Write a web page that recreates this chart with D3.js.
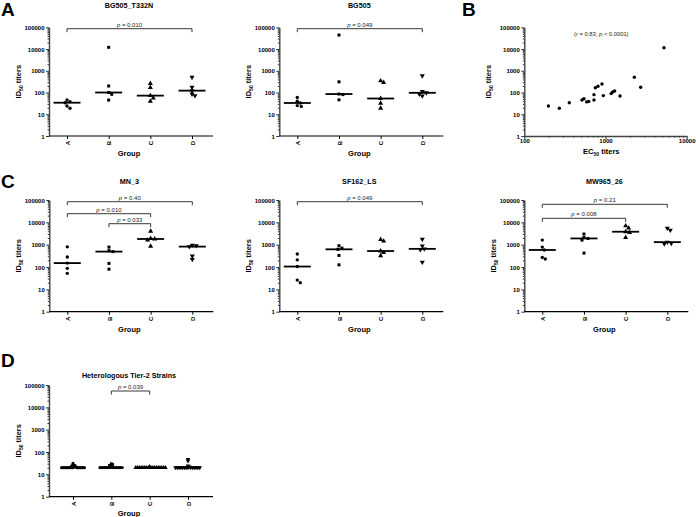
<!DOCTYPE html>
<html><head><meta charset="utf-8">
<script src="https://cdn.jsdelivr.net/npm/d3@7"></script>
<style>body{margin:0;background:#fff}svg{display:block;font-family:"Liberation Sans",Arial,sans-serif}</style>
</head><body><svg id="c" width="696" height="517"></svg>
<script>
// ---------------- data ----------------
const groups = ["A", "B", "C", "D"];
const yTickValues = [1, 10, 100, 1000, 10000, 100000];
const ecTickValues = [100, 1000, 10000];

// ID50 titers per group (A, B, C, D)
const bg505T332N = [[45, 38, 34, 24, 19], [12000, 200, 100, 83, 45], [260, 170, 72, 55, 40], [500, 174, 122, 85, 72]];
const bg505 = [[59, 40, 33, 25, 23], [44000, 310, 85, 80, 46], [345, 290, 53, 32, 19], [590, 112, 97, 85, 70]];
const mn3 = [[800, 280, 150, 87, 52], [780, 540, 490, 145, 80], [4000, 1900, 1800, 1600, 850], [950, 900, 820, 310, 220]];
const sf162 = [[380, 210, 105, 26, 20], [900, 700, 620, 330, 125], [1700, 1450, 520, 440, 320], [1750, 880, 650, 600, 165]];
const mw965 = [[1600, 780, 580, 270, 230], [3000, 2100, 1900, 1600, 420], [7000, 5500, 3800, 3500, 2100], [5500, 4500, 1300, 1150, 1100]];
const tier2 = [
  [20, 20, 20, 20, 20, 20, 20, 20, 20, 20, 20, 20, 22, 22, 24, 25, 25, 31],
  [20, 20, 20, 20, 20, 20, 20, 20, 20, 20, 20, 20, 22, 23, 25, 26, 28, 30],
  [20, 20, 20, 20, 20, 20, 20, 20, 20, 20, 20, 20, 20, 20, 20, 20, 20, 22],
  [20, 20, 20, 20, 20, 20, 20, 20, 20, 20, 20, 20, 20, 20, 22, 24, 40, 47]
];

// Panel B correlation
const ec50 = [198, 270, 358, 513, 543, 586, 621, 721, 721, 750, 808, 906, 940, 1175, 1224, 1297, 1510, 2265, 2710, 5250];
const id50 = [24, 19, 34, 45, 52, 37, 39, 80, 45, 167, 193, 246, 72, 89, 106, 118, 69, 500, 174, 11500];

// significance brackets [from, to, label]
const bracketsBG505T332N = [["A", "D", "0.010"]];
const bracketsBG505 = [["A", "D", "0.049"]];
const bracketsMN3 = [["A", "D", "0.40"], ["A", "C", "0.010"], ["B", "C", "0.033"]];
const bracketsSF162 = [["A", "D", "0.049"]];
const bracketsMW965 = [["A", "D", "0.21"], ["A", "C", "0.008"]];
const bracketsTier2 = [["B", "C", "0.039"]];

// ---------------- drawing ----------------
const svg = d3.select("#c");
const FONT_BOLD = 700;
const symbols = [d3.symbolCircle, d3.symbolSquare, d3.symbolTriangle, d3.symbolTriangle];

function minorVals(lo, hi) {
  const out = [];
  for (let p = lo; p < hi; p *= 10) for (let k = 2; k <= 9; k++) out.push(p * k);
  return out;
}

function yAxis(g, y, x0) {
  const ax = g.append("g").attr("transform", `translate(${x0},0)`);
  ax.call(d3.axisLeft(y).tickValues(yTickValues).tickFormat(d3.format("d")).tickSize(3).tickSizeOuter(0));
  ax.append("g").call(d3.axisLeft(y).tickValues(minorVals(1, 100000)).tickFormat("").tickSize(1.5).tickSizeOuter(0))
    .select(".domain").remove();
  ax.selectAll("text").attr("font-size", 6).attr("font-weight", FONT_BOLD).attr("fill", "#000").attr("x", -4.5).attr("dy", "0.34em");
  ax.selectAll("line").attr("stroke", "#333");
  ax.select(".domain").attr("stroke", "#444").attr("stroke-width", 1.4);
}

function yLabel(g, x, yc) {
  const t = g.append("text").attr("transform", `translate(${x},${yc}) rotate(-90)`)
    .attr("text-anchor", "middle").attr("font-size", 7.5).attr("font-weight", FONT_BOLD).attr("fill", "#000");
  t.append("tspan").text("ID");
  t.append("tspan").text("50").attr("font-size", 5).attr("dy", 2);
  t.append("tspan").text(" titers").attr("dy", -2);
}

function dodge(vals, y, cx, minDist, step) {
  const placed = [];
  const order = vals.map((v, i) => i).sort((a, b) => vals[b] - vals[a]);
  const res = new Array(vals.length);
  for (const i of order) {
    const py = y(vals[i]);
    let k = 0, px;
    while (true) {
      const off = (k === 0 ? 0 : (k % 2 ? 1 : -1) * Math.ceil(k / 2) * step);
      px = cx + off;
      if (placed.every(p => Math.hypot(p[0] - px, p[1] - py) >= minDist)) break;
      k++;
    }
    placed.push([px, py]);
    res[i] = [px, py];
  }
  return res;
}

function dotPanel(p) {
  const g = svg.append("g");
  const y = d3.scaleLog().domain([1, 100000]).range([p.yBot, p.yTop]);
  const x = d3.scalePoint().domain(groups).range([p.x0 + p.xPad[0], p.x0 + p.xPad[1]]);
  yAxis(g, y, p.x0);
  // x axis
  const xa = g.append("g").attr("transform", `translate(0,${p.yBot})`);
  xa.call(d3.axisBottom(x).tickSize(3).tickSizeOuter(0));
  xa.select(".domain").attr("d", `M${p.x0},0H${p.x0 + 164}`).attr("stroke", "#000").attr("stroke-width", 1.2);
  xa.selectAll("line").attr("stroke", "#000");
  xa.selectAll("text").attr("font-size", 6).attr("font-weight", FONT_BOLD).attr("fill", "#000")
    .attr("transform", "rotate(-90)").attr("text-anchor", "end").attr("x", -5).attr("y", 0).attr("dy", "0.34em");
  // titles
  g.append("text").attr("x", p.x0 + 80).attr("y", p.titleY).attr("text-anchor", "middle")
    .attr("font-size", 7.2).attr("font-weight", FONT_BOLD).text(p.title);
  g.append("text").attr("x", p.x0 + 80).attr("y", p.yBot + p.groupDy).attr("text-anchor", "middle")
    .attr("font-size", 7.5).attr("font-weight", FONT_BOLD).text("Group");
  yLabel(g, p.x0 - 28, (p.yTop + p.yBot) / 2);
  // points + medians
  p.data.forEach((vals, gi) => {
    const cx = x(groups[gi]);
    const pos = dodge(vals, y, cx, p.minDist, p.step);
    const sym = d3.symbol().type(symbols[gi]).size(p.symSize[gi]);
    g.append("g").selectAll("path").data(pos).join("path")
      .attr("d", sym)
      .attr("transform", d => `translate(${d[0]},${d[1]})${gi === 3 ? " rotate(180)" : ""}`)
      .attr("fill", "#000");
    const m = y(d3.median(vals));
    g.append("line").attr("x1", cx - p.medHalf).attr("x2", cx + p.medHalf).attr("y1", m).attr("y2", m)
      .attr("stroke", "#000").attr("stroke-width", 1.8);
  });
  // brackets
  p.brackets.forEach((b, i) => {
    const by = p.bracketY[i];
    const x1 = x(b[0]), x2 = x(b[1]);
    g.append("path").attr("d", `M${x1},${by + 3.5}V${by}H${x2}V${by + 3.5}`)
      .attr("fill", "none").attr("stroke", "#222").attr("stroke-width", 0.9);
    const t = g.append("text").attr("x", (x1 + x2) / 2).attr("y", by - 2).attr("text-anchor", "middle")
      .attr("font-size", 6).attr("fill", "#222");
    t.append("tspan").attr("font-style", "italic").text("p");
    t.append("tspan").text(" = " + b[2]);
  });
}

function panelLetter(txt, x, y) {
  svg.append("text").attr("x", x).attr("y", y).attr("font-size", 19).attr("font-weight", FONT_BOLD).text(txt);
}

const rowA = { yTop: 27.3, yBot: 136, titleY: 8, groupDy: 20, xPad: [18, 143], minDist: 3.3, step: 1, medHalf: 13.5, symSize: [9, 9, 11, 11] };
const rowC = { yTop: 200, yBot: 311.7, titleY: 184, groupDy: 20, xPad: [18, 143], minDist: 3.3, step: 1, medHalf: 13.5, symSize: [9, 9, 11, 11] };
const rowD = { yTop: 385, yBot: 496.7, titleY: 378, groupDy: 18.8, xPad: [24, 139], minDist: 1.4, step: 0.45, medHalf: 12.5, symSize: [8, 8, 9, 9] };

dotPanel({ ...rowA, x0: 49, title: "BG505_T332N", data: bg505T332N, brackets: bracketsBG505T332N, bracketY: [28.7] });
dotPanel({ ...rowA, x0: 279.3, title: "BG505", data: bg505, brackets: bracketsBG505, bracketY: [28.7] });
dotPanel({ ...rowC, x0: 49.3, title: "MN_3", data: mn3, brackets: bracketsMN3, bracketY: [201.7, 213.7, 223.7] });
dotPanel({ ...rowC, x0: 279.3, title: "SF162_LS", data: sf162, brackets: bracketsSF162, bracketY: [201.7] });
dotPanel({ ...rowC, x0: 524.3, title: "MW965_26", data: mw965, brackets: bracketsMW965, bracketY: [204.3, 218.3] });
dotPanel({ ...rowD, x0: 49, title: "Heterologous Tier-2 Strains", data: tier2, brackets: bracketsTier2, bracketY: [391] });

// Panel B scatter
(function () {
  const x0 = 524.3, yTop = 27.3, yBot = 136;
  const g = svg.append("g");
  const y = d3.scaleLog().domain([1, 100000]).range([yBot, yTop]);
  const x = d3.scaleLog().domain([100, 10000]).range([x0, 686.7]);
  yAxis(g, y, x0);
  const xa = g.append("g").attr("transform", `translate(0,${yBot})`);
  xa.call(d3.axisBottom(x).tickValues(ecTickValues).tickFormat(d3.format("d")).tickSize(3).tickSizeOuter(0));
  xa.append("g").call(d3.axisBottom(x).tickValues(minorVals(100, 10000)).tickFormat("").tickSize(1.5).tickSizeOuter(0))
    .select(".domain").remove();
  xa.selectAll("line").attr("stroke", "#333");
  xa.select(".domain").attr("stroke", "#444").attr("stroke-width", 1.4);
  xa.selectAll("text").attr("font-size", 6).attr("font-weight", FONT_BOLD).attr("fill", "#000").attr("y", 2.5);
  const t = g.append("text").attr("x", x0 + 77).attr("y", yBot + 18).attr("text-anchor", "middle")
    .attr("font-size", 7.5).attr("font-weight", FONT_BOLD);
  t.append("tspan").text("EC");
  t.append("tspan").text("50").attr("font-size", 5).attr("dy", 2);
  t.append("tspan").text(" titers").attr("dy", -2);
  yLabel(g, x0 - 33, (yTop + yBot) / 2);
  g.append("g").selectAll("circle").data(ec50).join("circle")
    .attr("cx", d => x(d)).attr("cy", (d, i) => y(id50[i])).attr("r", 1.7).attr("fill", "#000");
  const a = g.append("text").attr("x", x0 + 77).attr("y", 35.5).attr("text-anchor", "middle").attr("font-size", 5.8).attr("fill", "#222");
  a.append("tspan").text("(");
  a.append("tspan").attr("font-style", "italic").text("r");
  a.append("tspan").text(" = 0.83; ");
  a.append("tspan").attr("font-style", "italic").text("p");
  a.append("tspan").text(" < 0.0001)");
})();

panelLetter("A", 1, 16);
panelLetter("B", 462, 16);
panelLetter("C", 1, 188);
panelLetter("D", 1, 367);
</script></body></html>
